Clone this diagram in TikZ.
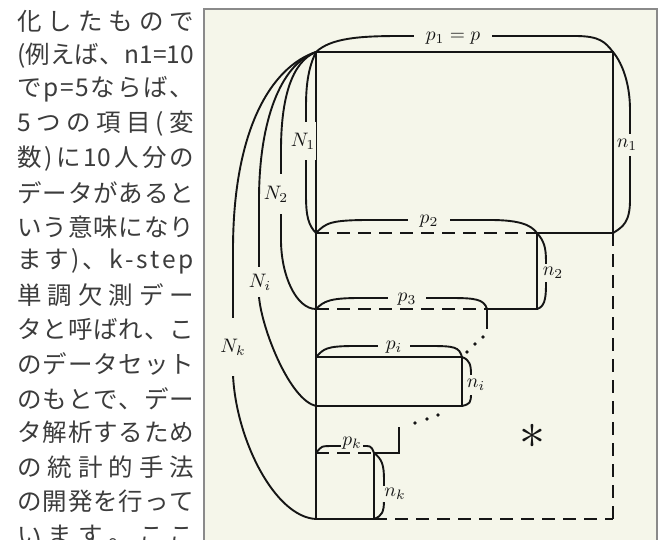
\documentclass[tikz,border=0pt]{standalone}
\usepackage{fontspec}
\newfontfamily\cjk{Noto Sans CJK JP}
\definecolor{bg}{HTML}{F5F6EA}
\definecolor{frm}{HTML}{8A8A8A}
\definecolor{ink}{HTML}{151515}
\definecolor{jtxt}{HTML}{3C3C3C}
\tikzset{
 jt/.style={anchor=west, inner sep=0pt, font=\cjk\fontsize{24.5}{24.5}\selectfont, text=jtxt},
 solidln/.style={draw=ink, line width=2pt},
 dashln/.style={draw=ink, line width=2pt, dash pattern=on 13pt off 8pt},
 brace/.style={draw=ink, line width=1.9pt, line cap=round},
 lab/.style={fill=bg, text=ink, scale=1.95, transform shape, inner sep=0.5pt},
 dotn/.style={circle, fill=ink, inner sep=0pt, minimum size=3.6pt},
}
\newcommand\jl[3]{\node[jt] (#1) at (17,-#2) {\hbox to 177pt{#3}};}
\begin{document}
\begin{tikzpicture}[x=1pt,y=1pt]
\clip (0,0) rectangle (661,-540);
\fill[white] (0,0) rectangle (661,-540);
\draw[frm, line width=1.5pt, fill=bg] (204,-9) rectangle (657,-560);
% Japanese text column
\jl{t1}{21}{化\hfill し\hfill た\hfill も\hfill の\hfill で}
\jl{t2}{55.3}{(\hfill 例\hfill え\hfill ば\hfill 、\hfill n\hfill 1\hfill =\hfill 1\hfill 0}
\jl{t3}{89.6}{で\hfill p\hfill =\hfill 5\hfill な\hfill ら\hfill ば\hfill 、}
\jl{t4}{123.9}{5\hfill つ\hfill の\hfill 項\hfill 目\hfill (\hfill 変}
\jl{t5}{158.2}{数\hfill )\hfill に\hfill 10\hfill 人\hfill 分\hfill の}
\jl{t6}{192.5}{デ\hfill ー\hfill タ\hfill が\hfill あ\hfill る\hfill と}
\jl{t7}{226.8}{い\hfill う\hfill 意\hfill 味\hfill に\hfill な\hfill り}
\jl{t8}{261.1}{ま\hfill す\hfill )\hfill 、\hfill k\hfill -\hfill s\hfill t\hfill e\hfill p}
\jl{t9}{295.4}{単\hfill 調\hfill 欠\hfill 測\hfill デ\hfill ー}
\jl{t10}{329.7}{タ\hfill と\hfill 呼\hfill ば\hfill れ\hfill 、\hfill こ}
\jl{t11}{364}{の\hfill デ\hfill ー\hfill タ\hfill セ\hfill ッ\hfill ト}
\jl{t12}{398.3}{の\hfill も\hfill と\hfill で\hfill 、\hfill デ\hfill ー}
\jl{t13}{432.6}{タ\hfill 解\hfill 析\hfill す\hfill る\hfill た\hfill め}
\jl{t14}{466.9}{の\hfill 統\hfill 計\hfill 的\hfill 手\hfill 法}
\jl{t15}{501.2}{の\hfill 開\hfill 発\hfill を\hfill 行\hfill っ\hfill て}
\jl{t16}{535.5}{い\hfill ま\hfill す\hfill 。\hfill こ\hfill こ}
% corner coordinates
\coordinate (A) at (316,-52);
\coordinate (B) at (613,-52);
\coordinate (C) at (316,-233);
\coordinate (D) at (537,-233);
\coordinate (E) at (613,-233);
\coordinate (F) at (316,-309);
\coordinate (G) at (537,-309);
\coordinate (H) at (487,-309);
\coordinate (H2) at (487,-329);
\coordinate (I) at (316,-357);
\coordinate (J) at (462,-357);
\coordinate (K) at (462,-406);
\coordinate (L) at (316,-406);
\coordinate (M) at (399,-427);
\coordinate (M2) at (399,-453);
\coordinate (P) at (374,-453);
\coordinate (Q) at (316,-453);
\coordinate (R) at (316,-519);
\coordinate (S) at (374,-519);
\coordinate (T) at (613,-519);
% dashed parts
\draw[dashln] (C) -- (D);
\draw[dashln] (F) -- (H);
\draw[dashln] (Q) -- (P);
\draw[dashln] (S) -- (T);
\draw[dashln] (E) -- (T);
% solid parts
\draw[solidln] (A) -- (R);
\draw[solidln] (A) -- (B) -- (E) -- (D) -- (G) -- (H) -- (H2);
\draw[solidln] (I) -- (J) -- (K) -- (L);
\draw[solidln] (M) -- (M2) -- (P) -- (S) -- (R);
% dots
\node[dotn] (d1) at (483,-337) {};
\node[dotn] (d2) at (475,-344) {};
\node[dotn] (d3) at (467,-352) {};
\node[dotn] (d4) at (415,-423) {};
\node[dotn] (d5) at (427,-419) {};
\node[dotn] (d6) at (438,-415) {};
% braces
\draw[brace] (A) .. controls +(15,14) and +(-40,0) .. (400,-36) -- (575,-36) .. controls +(25,0) and +(-8,10) .. (B);
\draw[brace] (B) .. controls +(10,-12) and +(0,25) .. (630,-110) -- (630,-200) .. controls +(0,-22) and +(10,6) .. (E);
\draw[brace] (A) .. controls +(-10,-20) and +(0,15) .. (306,-110) -- (306,-195) .. controls +(0,-20) and +(-8,8) .. (C);
\draw[brace] (A) .. controls +(-25,-10) and +(0,50) .. (281,-150) -- (281,-240) .. controls +(0,-35) and +(-20,0) .. (F);
\draw[brace] (A) .. controls +(-35,-12) and +(0,80) .. (259,-200) -- (259,-297) .. controls +(3,-33) and +(-26,6) .. (L);
\draw[brace] (A) .. controls +(-45,-15) and +(0,120) .. (233,-250) -- (233,-375) .. controls +(3,-65) and +(-41,2) .. (R);
\draw[brace] (C) .. controls +(10,10) and +(-40,0) .. (370,-220) -- (490,-220) .. controls +(30,0) and +(-6,8) .. (D);
\draw[brace] (D) .. controls +(7,-8) and +(0,15) .. (546,-262) -- (546,-285) .. controls +(0,-15) and +(7,2) .. (G);
\draw[brace] (F) .. controls +(8,8) and +(-30,0) .. (360,-298) -- (450,-298) .. controls +(25,0) and +(-3,10) .. (H);
\draw[brace] (I) .. controls +(8,8) and +(-30,0) .. (355,-346) -- (430,-346) .. controls +(25,0) and +(-3,10) .. (J);
\draw[brace] (J) .. controls +(8,-3) and +(0,10) .. (471,-375) -- (471,-393) .. controls +(0,-10) and +(8,2) .. (K);
\draw[brace] (Q) .. controls +(6,7) and +(-15,0) .. (335,-446) -- (362,-446) .. controls +(8,0) and +(-3,8) .. (P);
\draw[brace] (P) .. controls +(8,-6) and +(0,15) .. (384,-480) -- (384,-500) .. controls +(0,-12) and +(8,3) .. (S);
% labels
\node[lab, inner xsep=6pt] (lp1) at (453,-38) {$p_1=p$};
\node[lab, inner ysep=2.5pt, inner xsep=0.3pt] (ln1) at (627,-145) {$n_1$};
\node[lab, inner ysep=5.5pt] (lN1) at (303,-141) {$N_1$};
\node[lab, inner ysep=6pt] (lN2) at (276,-194) {$N_2$};
\node[lab, inner ysep=3.5pt] (lNi) at (260,-282) {$N_i$};
\node[lab, inner ysep=10.5pt] (lNk) at (233,-347) {$N_k$};
\node[lab, inner xsep=6pt] (lp2) at (429,-221) {$p_2$};
\node[lab, inner ysep=1.5pt] (ln2) at (553,-273) {$n_2$};
\node[lab, inner xsep=5pt] (lp3) at (407,-299) {$p_3$};
\node[lab, inner xsep=4pt] (lpi) at (394,-347) {$p_i$};
\node[lab, inner ysep=2pt] (lni) at (476,-385) {$n_i$};
\node[lab, inner sep=0.5pt] (lpk) at (352,-443) {$p_k$};
\node[lab, inner sep=1pt] (lnk) at (395,-494) {$n_k$};
\node[text=ink, scale=5.2, transform shape] (star) at (532,-436) {$\ast$};
\end{tikzpicture}
\end{document}
